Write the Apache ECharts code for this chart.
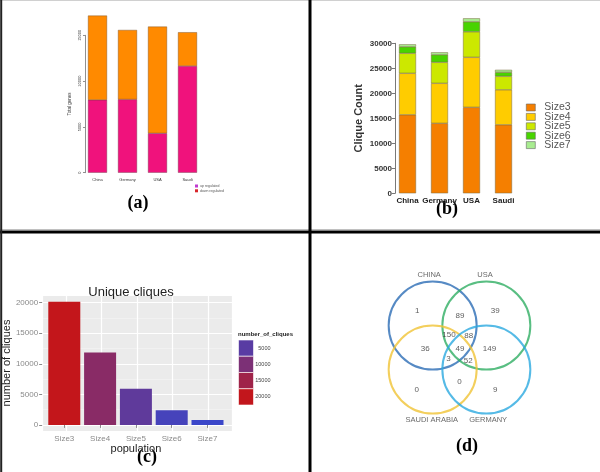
<!DOCTYPE html>
<html>
<head>
<meta charset="utf-8">
<script src="https://cdn.jsdelivr.net/npm/echarts@6/dist/echarts.min.js"></script>
<style>
  html, body { margin: 0; padding: 0; background: #fff; }
  #chart { width: 600px; height: 472px; }
</style>
</head>
<body>
<div id="chart"></div>
<script>
// (a) regulated genes per country
const countriesA = ["China", "Germany", "USA", "Saudi"];
const upRegulated = [7950, 8000, 4300, 11650];
const downRegulated = [9200, 7580, 11650, 3680];
const ticksA = [0, 5000, 10000, 15000];

// (b) clique counts per country, stacked by size
const countriesB = ["China", "Germany", "USA", "Saudi"];
const size3 = [15700, 14000, 17200, 13700];
const size4 = [8300, 8000, 10000, 7000];
const size5 = [4000, 4200, 5100, 2700];
const size6 = [1300, 1500, 2000, 800];
const size7 = [500, 500, 700, 500];
const sizeNames = ["Size3", "Size4", "Size5", "Size6", "Size7"];

// (c) unique cliques
const populations = ["Size3", "Size4", "Size5", "Size6", "Size7"];
const uniqueCliques = [20150, 11850, 5900, 2400, 800];
const legendBreaksC = [5000, 10000, 15000, 20000];

// (d) venn diagram (units of circle radius)
const setNames = ["CHINA", "USA", "SAUDI ARABIA", "GERMANY"];
const setX = [-0.61, 0.61, -0.61, 0.61];
const setY = [0.5, 0.5, -0.5, -0.5];
const setLabelX = [-0.69, 0.58, -0.63, 0.65];
const setLabelY = [1.65, 1.65, -1.65, -1.65];
const regionCounts = [1, 89, 39, 150, 88, 36, 49, 149, 3, 52, 0, 0, 9];
const regionX = [-0.96, 0.01, 0.81, -0.24, 0.21, -0.78, 0.01, 0.68, -0.25, 0.2, -0.97, 0.0, 0.81];
const regionY = [0.83, 0.73, 0.83, 0.29, 0.26, -0.03, -0.03, -0.03, -0.25, -0.3, -0.96, -0.78, -0.96];

const sans = "Liberation Sans";
const serif = "Liberation Serif";
const sizeColors = ["#F57F00", "#FFCC00", "#CCE800", "#48D400", "#A8EC90"];
const setColors = ["#2C6DB5", "#2FAE63", "#F0C334", "#2BA9E0"];
const lowC = "#3B47C9", highC = "#C3161B";
const minC = Math.min(...uniqueCliques), maxC = Math.max(...uniqueCliques);
const plain = (v) => String(v);

const chart = echarts.init(document.getElementById("chart"), null, { renderer: "canvas" });

const sizeSeries = [size3, size4, size5, size6, size7].map((d, i) => ({
  name: sizeNames[i],
  type: "bar",
  stack: "b",
  xAxisIndex: 1,
  yAxisIndex: 1,
  data: d,
  barWidth: 17,
  clip: false,
  itemStyle: { color: sizeColors[i], borderColor: "#7a6a40", borderWidth: 0.5 },
}));

// legend keys for (c)
const keyTop = 340, keyH = 16.25;
const legendC = [];
legendBreaksC.forEach((v, i) => {
  const t = (v - minC) / (maxC - minC);
  legendC.push({
    type: "rect",
    shape: { x: 238.5, y: keyTop + i * keyH, width: 15, height: keyH },
    style: { fill: echarts.color.lerp(t, [lowC, highC]), stroke: "#fff", lineWidth: 0.6 },
  });
  legendC.push({
    type: "text",
    x: 270.5, y: keyTop + i * keyH + keyH / 2,
    style: { text: String(v), fill: "#444", font: "5.5px " + sans, align: "right", verticalAlign: "middle" },
  });
});

const option = {
  backgroundColor: "#fff",
  animation: false,
  textStyle: { fontFamily: sans },
  title: [{
    text: "Unique cliques",
    left: 126, top: 281, textAlign: "center",
    textStyle: { fontSize: 13, fontWeight: "normal", color: "#222", fontFamily: sans },
  }],
  legend: [
    {
      data: [
        { name: "up regulated", itemStyle: { color: "#C03BD0", borderWidth: 0 } },
        { name: "down regulated", itemStyle: { color: "#D8262B", borderWidth: 0 } },
      ],
      orient: "vertical", left: 195, top: 184, icon: "rect",
      itemWidth: 3, itemHeight: 3, itemGap: 0.8, padding: 0,
      itemStyle: { borderWidth: 0 },
      textStyle: { fontSize: 3.5, color: "#555", padding: [0, 0, 0, -3] },
    },
    {
      data: sizeNames,
      orient: "vertical", left: 526, top: 102, icon: "rect",
      itemWidth: 9, itemHeight: 7, itemGap: -1.6, padding: 0,
      itemStyle: { borderColor: "#666", borderWidth: 0.6 },
      textStyle: { fontSize: 10.5, color: "#555", fontFamily: sans, padding: [0, 0, 0, 4] },
    },
  ],
  grid: [
    { left: 82.5, top: 35.3, width: 120, height: 137.4 },
    { left: 391.5, top: 43.3, width: 128, height: 150 },
    { left: 40, top: 295, width: 192, height: 136, show: true, backgroundColor: "#EBEBEB", borderWidth: 0 },
    { left: 46.4, top: 295, width: 179, height: 136 },
    { left: 327.5, top: 237.6, width: 264, height: 220 },
  ],
  xAxis: [
    {
      type: "category", gridIndex: 0, data: countriesA,
      axisLine: { show: false }, axisTick: { show: false },
      axisLabel: { fontSize: 4, color: "#333", margin: 5, interval: 0 },
    },
    {
      type: "category", gridIndex: 1, data: countriesB,
      axisLine: { show: false }, axisTick: { show: false },
      axisLabel: { fontSize: 8, fontWeight: "bold", color: "#222", margin: 3, interval: 0 },
    },
    {
      type: "value", gridIndex: 2, min: 0.32, max: 5.68,
      axisLine: { show: false }, axisTick: { show: false }, axisLabel: { show: false },
      splitLine: { show: true, lineStyle: { color: "#fff", width: 1.2 } },
    },
    {
      type: "category", gridIndex: 3, data: populations,
      axisLine: { show: false },
      axisTick: { show: true, alignWithLabel: true, length: 3, lineStyle: { color: "#8a8a8a" } },
      axisLabel: { fontSize: 8, color: "#8a8a8a", margin: 4, interval: 0 },
      name: "population", nameLocation: "middle", nameGap: 12,
      nameTextStyle: { fontSize: 11, color: "#222" },
    },
    { type: "value", gridIndex: 4, min: -3, max: 3, show: false },
  ],
  yAxis: [
    {
      type: "value", gridIndex: 0, min: ticksA[0], max: ticksA[ticksA.length - 1], interval: 5000, offset: -2.5,
      axisLine: { show: true, lineStyle: { color: "#444", width: 0.6 } },
      axisTick: { show: true, length: 2, lineStyle: { color: "#444", width: 0.6 } },
      axisLabel: { fontSize: 4, color: "#333", rotate: 90, margin: 3, formatter: plain },
      splitLine: { show: false },
      name: "Total genes", nameLocation: "middle", nameGap: 13,
      nameTextStyle: { fontSize: 4.5, color: "#333" },
    },
    {
      type: "value", gridIndex: 1, min: 0, max: 30000, interval: 5000, offset: -3.5,
      axisLine: { show: true, lineStyle: { color: "#555", width: 0.8 } },
      axisTick: { show: true, length: 3, lineStyle: { color: "#555", width: 0.8 } },
      axisLabel: { fontSize: 8, fontWeight: "bold", color: "#333", margin: 3, formatter: plain },
      splitLine: { show: false },
      name: "Clique Count", nameLocation: "middle", nameGap: 31,
      nameTextStyle: { fontSize: 11, fontWeight: "bold", color: "#333" },
    },
    {
      type: "value", gridIndex: 2, min: -1000, max: 21250,
      axisLine: { show: false },
      axisTick: { show: true, length: 3, lineStyle: { color: "#8a8a8a" } },
      axisLabel: { fontSize: 8, color: "#8a8a8a", margin: 4, showMinLabel: false, showMaxLabel: false, formatter: plain },
      splitLine: { show: true, lineStyle: { color: "#fff", width: 1.2 } },
      minorTick: { show: false, splitNumber: 2 },
      minorSplitLine: { show: true, lineStyle: { color: "#F4F4F4", width: 0.7 } },
      name: "number of cliques", nameLocation: "middle", nameGap: 26,
      nameTextStyle: { fontSize: 11, color: "#222" },
    },
    { type: "value", gridIndex: 3, min: -1000, max: 21250, show: false },
    { type: "value", gridIndex: 4, min: -2.5, max: 2.5, show: false },
  ],
  visualMap: [{
    type: "continuous", show: false, seriesIndex: 7, dimension: 1,
    min: minC, max: maxC, inRange: { color: [lowC, highC] },
  }],
  series: [
    {
      name: "up regulated", type: "bar", stack: "a", xAxisIndex: 0, yAxisIndex: 0,
      data: upRegulated, barWidth: 19, clip: false,
      itemStyle: { color: "#F0127C", borderColor: "#6a3a4a", borderWidth: 0.4 },
    },
    {
      name: "down regulated", type: "bar", stack: "a", xAxisIndex: 0, yAxisIndex: 0,
      data: downRegulated, barWidth: 19, clip: false,
      itemStyle: { color: "#FF8A00", borderColor: "#6a4a2a", borderWidth: 0.4 },
    },
    ...sizeSeries,
    {
      name: "number_of_cliques", type: "bar", xAxisIndex: 3, yAxisIndex: 3,
      data: uniqueCliques, barWidth: 32,
    },
    {
      type: "scatter", xAxisIndex: 4, yAxisIndex: 4, symbol: "circle", symbolSize: 88,
      data: setX.map((x, i) => ({
        value: [x, setY[i]],
        itemStyle: { color: "rgba(0,0,0,0)", borderColor: setColors[i], borderWidth: 2 },
      })),
      silent: true, z: 3,
    },
    {
      type: "scatter", xAxisIndex: 4, yAxisIndex: 4, symbolSize: 0,
      data: regionX.map((x, i) => [x, regionY[i], regionCounts[i]]),
      label: {
        show: true, position: "inside", formatter: (p) => String(p.value[2]),
        fontSize: 8, color: "#333", fontFamily: sans,
      },
      z: 4,
    },
    {
      type: "scatter", xAxisIndex: 4, yAxisIndex: 4, symbolSize: 0,
      data: setLabelX.map((x, i) => [x, setLabelY[i], setNames[i]]),
      label: {
        show: true, position: "inside", formatter: (p) => p.value[2],
        fontSize: 7.5, color: "#444", fontFamily: sans,
      },
      z: 4,
    },
  ],
  graphic: [
    // panel frame
    { type: "line", shape: { x1: 0, y1: 0.5, x2: 600, y2: 0.5 }, style: { stroke: "#d0d0d0", lineWidth: 1 } },
    { type: "line", shape: { x1: 0, y1: 229.5, x2: 600, y2: 229.5 }, style: { stroke: "#c0c0c0", lineWidth: 1 } },
    { type: "line", shape: { x1: 0, y1: 232, x2: 600, y2: 232 }, style: { stroke: "#000", lineWidth: 3 } },
    { type: "line", shape: { x1: 310, y1: 0, x2: 310, y2: 472 }, style: { stroke: "#000", lineWidth: 3 } },
    { type: "line", shape: { x1: 1.2, y1: 0, x2: 1.2, y2: 472 }, style: { stroke: "#222", lineWidth: 2 } },
    // panel tags
    { type: "text", x: 138, y: 203, style: { text: "(a)", fill: "#000", font: "bold 18px " + serif, align: "center", verticalAlign: "middle" } },
    { type: "text", x: 447, y: 209, style: { text: "(b)", fill: "#000", font: "bold 18px " + serif, align: "center", verticalAlign: "middle" } },
    { type: "text", x: 147, y: 457, style: { text: "(c)", fill: "#000", font: "bold 18px " + serif, align: "center", verticalAlign: "middle" } },
    { type: "text", x: 467, y: 446, style: { text: "(d)", fill: "#000", font: "bold 18px " + serif, align: "center", verticalAlign: "middle" } },
    // legend of (c)
    { type: "text", x: 238, y: 334, style: { text: "number_of_cliques", fill: "#222", font: "bold 6px " + sans, verticalAlign: "middle" } },
    ...legendC,
  ],
};

chart.setOption(option);
</script>
</body>
</html>
